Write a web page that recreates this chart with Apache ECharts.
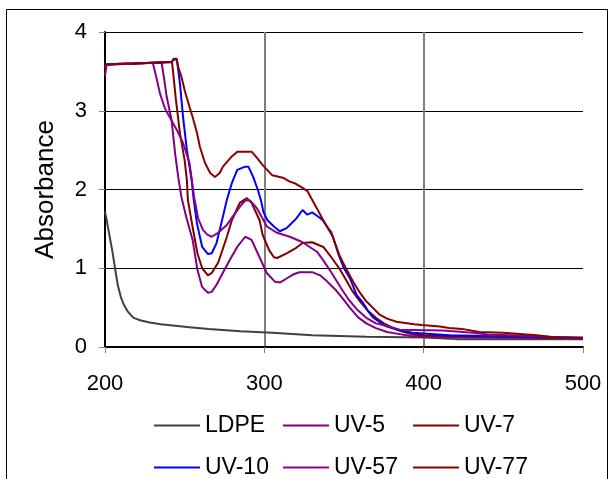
<!DOCTYPE html>
<html>
<head>
<meta charset="utf-8">
<script src="https://cdn.jsdelivr.net/npm/echarts@6/dist/echarts.min.js"></script>
<style>
html,body{margin:0;padding:0;background:#fff;}
#chart{width:614px;height:479px;}
</style>
</head>
<body>
<div id="chart"></div>
<script>
// Wavelength (nm) vs Absorbance
const seriesNames = ['LDPE', 'UV-5', 'UV-7', 'UV-10', 'UV-57', 'UV-77'];
const xTicks = [200, 300, 400, 500];
const yTicks = [0, 1, 2, 3, 4];

const ldpe = [[200,1.72],[201,1.62],[202.5,1.45],[204.5,1.23],[206.3,1.0],[208,0.79],[210,0.63],[212,0.53],[214,0.46],[216,0.41],[218,0.37],[222,0.34],[228,0.31],[235,0.29],[244,0.27],[253,0.25],[265,0.23],[285,0.20],[305,0.18],[330,0.15],[364,0.13],[400,0.12],[420,0.10],[500,0.10]];

const uv5 = [[200,3.45],[201,3.58],[217,3.6],[218,3.61],[235.5,3.61],[237,3.42],[238.7,3.18],[241.8,2.88],[244,2.46],[246,2.15],[248,1.90],[251,1.65],[255,1.36],[258,0.98],[261,0.76],[264.6,0.69],[267,0.70],[270,0.79],[275,0.98],[279,1.13],[283,1.27],[288,1.40],[292,1.36],[297,1.14],[301.5,0.94],[306.6,0.83],[310,0.82],[314,0.87],[318,0.92],[322,0.95],[330,0.95],[335,0.91],[339,0.84],[345,0.72],[349,0.62],[353.6,0.50],[358.7,0.38],[364,0.30],[370,0.24],[377,0.19],[383,0.17],[392,0.14],[400,0.13],[430,0.12],[500,0.11]];

const uv7 = [[200,3.56],[201,3.59],[218,3.6],[219,3.62],[242,3.62],[242.6,3.52],[244.5,3.14],[247,2.72],[250,2.37],[251.4,2.12],[252,1.87],[255,1.52],[258,1.19],[261,1.0],[264.6,0.91],[267,0.94],[271,1.07],[276.5,1.40],[279.6,1.61],[284.6,1.83],[289,1.89],[292,1.83],[297,1.61],[299,1.42],[303,1.23],[306,1.14],[308,1.13],[314,1.19],[320,1.26],[324,1.32],[330,1.33],[337,1.27],[342,1.14],[347,1.0],[350.5,0.88],[355,0.72],[360,0.58],[365,0.46],[370,0.37],[375,0.30],[380,0.25],[386,0.20],[393,0.16],[400,0.15],[420,0.14],[450,0.13],[500,0.11]];

const uv10 = [[200,3.56],[201,3.59],[218,3.6],[219,3.62],[242,3.62],[243,3.65],[245,3.65],[246,3.52],[247,3.35],[249,2.92],[251.4,2.5],[254.5,2.1],[255.5,1.90],[257.7,1.57],[261,1.27],[264.6,1.18],[267,1.19],[270,1.32],[273,1.57],[276.5,1.87],[279.6,2.08],[283,2.25],[288,2.29],[290,2.29],[293,2.16],[296,1.99],[298,1.85],[299.5,1.71],[302,1.61],[306,1.53],[309.7,1.47],[314,1.51],[316,1.55],[320,1.63],[324,1.74],[327,1.68],[330,1.71],[333.5,1.66],[336.7,1.61],[340,1.51],[342,1.46],[347,1.15],[350,1.0],[354,0.86],[358,0.66],[362,0.56],[365,0.46],[368,0.38],[372,0.32],[377,0.26],[383,0.22],[393,0.18],[416,0.15],[440,0.14],[470,0.13],[500,0.12]];

const uv57 = [[200,3.55],[201,3.59],[218,3.6],[219,3.61],[230,3.61],[232.6,3.39],[234.5,3.22],[237.6,3.03],[240.8,2.91],[245,2.76],[249,2.59],[253,2.34],[256,1.90],[258.5,1.63],[261.4,1.49],[264,1.43],[267,1.40],[271,1.45],[276.5,1.55],[279.6,1.64],[284.6,1.78],[288,1.86],[291,1.86],[295,1.77],[298.4,1.65],[301.6,1.53],[308,1.45],[316,1.40],[324,1.33],[333,1.21],[337,1.10],[341,0.98],[345,0.85],[349,0.72],[353,0.60],[358,0.48],[364,0.37],[370,0.30],[378,0.26],[385,0.22],[412,0.21],[431,0.18],[440,0.16],[470,0.14],[485,0.12],[500,0.11]];

const uv77 = [[200,3.56],[201,3.59],[218,3.6],[219,3.62],[242,3.62],[243,3.66],[245,3.66],[246,3.55],[248,3.43],[250,3.26],[253,3.05],[255,2.92],[257.7,2.72],[259.6,2.54],[262.7,2.34],[266,2.21],[269,2.16],[272,2.21],[274,2.29],[277,2.36],[279.6,2.42],[283,2.48],[292,2.48],[295,2.41],[299,2.31],[305,2.18],[311.6,2.15],[316,2.10],[319,2.08],[324,2.02],[327,1.98],[328,2.0],[330,1.87],[333,1.76],[337,1.61],[343,1.40],[347,1.17],[351.7,0.98],[356,0.82],[360,0.69],[364,0.58],[368,0.50],[372.4,0.41],[377,0.36],[383,0.32],[394,0.29],[399,0.28],[410,0.26],[416,0.24],[424,0.23],[435,0.19],[450,0.18],[471,0.15],[483,0.12],[500,0.11]];

const seriesData = [ldpe, uv5, uv7, uv10, uv57, uv77];
const colors = ['#404040', '#800080', '#800000', '#0000ff', '#8b008b', '#8b0000'];

const FONT = '"Liberation Sans", Arial, sans-serif';

const chart = echarts.init(document.getElementById('chart'), null, {renderer: 'canvas'});

const legendLefts = [149, 278, 408];
const legendTops = [409, 451];

function makeLegend(i) {
  return {
    orient: 'horizontal',
    left: legendLefts[i % 3],
    top: legendTops[Math.floor(i / 3)],
    itemWidth: 46,
    itemHeight: 14,
    icon: 'path://M0,6 L46,6 L46,8 L0,8 Z',
    textStyle: {fontFamily: FONT, fontSize: 23, color: '#000'},
    selectedMode: false,
    data: [seriesNames[i]]
  };
}

chart.setOption({
  animation: false,
  backgroundColor: '#fff',
  color: colors,
  graphic: [{
    type: 'rect',
    shape: {x: 6.5, y: 9.5, width: 601, height: 490},
    style: {fill: 'none', stroke: '#000', lineWidth: 1},
    silent: true,
    z: -10
  }],
  grid: {left: 105, right: 31, top: 32, bottom: 132, containLabel: false},
  legend: seriesNames.map((n, i) => makeLegend(i)),
  xAxis: {
    type: 'value',
    min: xTicks[0],
    max: xTicks[xTicks.length - 1],
    interval: 100,
    axisLine: {show: true, onZero: false, lineStyle: {color: '#000', width: 2}},
    axisTick: {show: true, inside: false, length: 6, lineStyle: {color: '#808080', width: 1}},
    axisLabel: {fontFamily: FONT, fontSize: 22, color: '#000', margin: 26},
    splitLine: {show: true, showMinLine: false, showMaxLine: false, lineStyle: {color: '#808080', width: 2}}
  },
  yAxis: {
    type: 'value',
    min: yTicks[0],
    max: yTicks[yTicks.length - 1],
    interval: 1,
    name: 'Absorbance',
    nameLocation: 'middle',
    nameGap: 46,
    nameTextStyle: {fontFamily: FONT, fontSize: 26, color: '#000'},
    axisLine: {show: true, lineStyle: {color: '#000', width: 2}},
    axisTick: {show: true, inside: false, length: 6, lineStyle: {color: '#808080', width: 1}},
    axisLabel: {fontFamily: FONT, fontSize: 22, color: '#000', margin: 18},
    splitLine: {show: true, showMinLine: false, lineStyle: {color: '#000', width: 1}}
  },
  series: seriesNames.map((name, i) => ({
    name: name,
    type: 'line',
    data: seriesData[i],
    symbol: 'none',
    showSymbol: false,
    smooth: false,
    lineStyle: {color: colors[i], width: 2},
    itemStyle: {color: colors[i]},
    emphasis: {disabled: true},
    z: 2 + i
  }))
});
</script>
</body>
</html>
